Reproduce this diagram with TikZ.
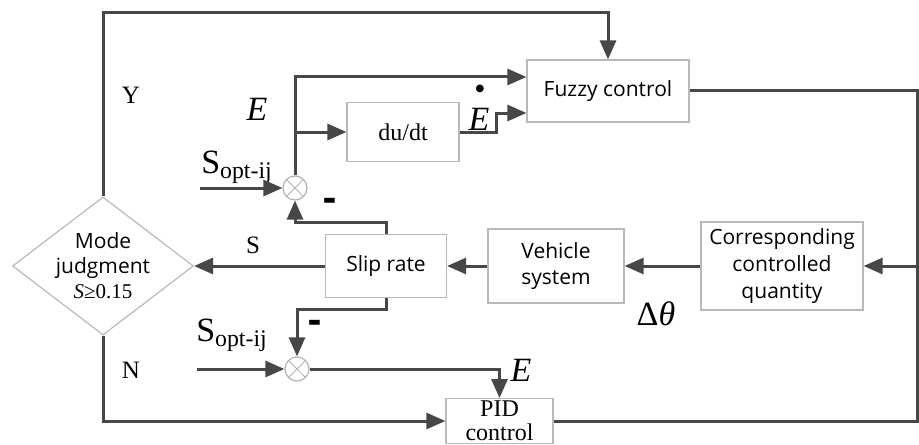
\documentclass[tikz,border=0pt]{standalone}
\usepackage{fontspec}
\setmainfont{Liberation Serif}
\setsansfont{Open Sans}
\usetikzlibrary{arrows.meta, positioning, shapes.geometric}

\begin{document}
\begin{tikzpicture}[
  x=0.5pt, y=-0.5pt,
  >={Triangle[length=9.5pt, width=8pt]},
  block/.style={rectangle, draw=gray!55, line width=0.6pt, fill=white, align=center,
                font=\sffamily\fontsize{10.5}{13.3}\selectfont},
  flow/.style={draw=black!72, line width=1.5pt},
  sum/.style={circle, draw=gray!60, line width=0.6pt, minimum size=12pt, inner sep=0pt,
              path picture={\draw[gray!60, line width=0.5pt]
                (path picture bounding box.center) +(45:7pt) -- +(225:7pt)
                +(135:7pt) -- +(-45:7pt);}},
  lbl/.style={font=\fontsize{12.5}{12.5}\selectfont},
  elbl/.style={font=\fontsize{17}{17}\selectfont\itshape},
  slbl/.style={font=\fontsize{17}{17}\selectfont},
  neg/.style={font=\sffamily\bfseries\fontsize{20}{20}\selectfont, inner sep=0pt}
]
  \clip (0,0) rectangle (919,444);

  % blocks
  \node[block, minimum width=81pt, minimum height=31pt] (fuzzy) at (608,91) {Fuzzy control};
  \node[block, font=\rmfamily\fontsize{12}{14}\selectfont, minimum width=56pt,
        minimum height=29.5pt] (dudt) at (403,132) {du/dt};
  \node[block, minimum width=60.5pt, minimum height=31.5pt] (slip) at (386,266) {Slip rate};
  \node[block, minimum width=68pt, minimum height=37pt] (veh) at (556,266) {Vehicle\\system};
  \node[block, minimum width=81pt, minimum height=44pt] (corr) at (782,266)
       {Corresponding\\controlled\\quantity};
  \node[block, font=\rmfamily\fontsize{12}{12}\selectfont, inner ysep=1.2pt,
        minimum width=53.5pt] (pid) at (499.5,421) {PID\\control};
  \node[diamond, draw=gray!55, line width=0.6pt, aspect=1.31, inner sep=0pt,
        minimum width=89pt, minimum height=68pt, align=center,
        font=\sffamily\fontsize{10.5}{12.5}\selectfont] (mode) at (103,266)
       {Mode\\judgment\\{\rmfamily\textit{S}≥0.15}};

  % summing points
  \node[sum] (sum1) at (295,188) {};
  \node[sum] (sum2) at (297,369) {};

  \coordinate (in1) at (200,188);
  \coordinate (in2) at (197,369);
  \coordinate (ytop) at (400,13);
  \coordinate (rjoin) at (917,266);

  % labels
  \node[lbl] (ylab) at (131,95) {Y};
  \node[lbl] (nlab) at (131,370) {N};
  \node[lbl] (slab) at (253,245) {S};
  \node[elbl] (e1) at (257,109) {E};
  \node[elbl] (e2) at (479,119) {E};
  \node[font=\fontsize{16}{16}\selectfont, inner sep=0pt] (edot) at (480,92) {•};
  \node[elbl] (e3) at (521,370) {E};
  \node[slbl] (dtheta) at (656,314) {Δ\textit{θ}};
  \node[slbl] (sopt1) at (237,167) {S\textsubscript{opt-ij}};
  \node[slbl] (sopt2) at (232,335) {S\textsubscript{opt-ij}};
  \node[neg] (m1) at (330,205) {-};
  \node[neg] (m2) at (315,327) {-};

  % connections
  \draw[flow, ->] (mode.north) |- (ytop) -| (fuzzy.north);
  \draw[flow, ->] (sum1.north) |- ([yshift=7pt]fuzzy.west);
  \draw[flow, ->] (sum1.north |- dudt.west) -- (dudt.west);
  \draw[flow, ->] (dudt.east) -- ++(37,0) |- ([yshift=-11pt]fuzzy.west);
  \draw[flow] (fuzzy.east) -| (rjoin);
  \draw[flow] (pid.east) -| (rjoin);
  \draw[flow, ->] (rjoin) -- (corr.east);
  \draw[flow, ->] (corr.west) -- (veh.east);
  \draw[flow, ->] (veh.west) -- (slip.east);
  \draw[flow, ->] (slip.west) -- (mode.east);
  \draw[flow, ->] (slip.north) -- ++(0,-11) -| (sum1.south);
  \draw[flow, ->] (slip.south) -- ++(0,11) -| (sum2.north);
  \draw[flow, ->] (in1) -- (sum1.west);
  \draw[flow, ->] (in2) -- (sum2.west);
  \draw[flow, ->] (sum2.east) -| (pid.north);
  \draw[flow, ->] (mode.south) |- (pid.west);
\end{tikzpicture}
\end{document}
